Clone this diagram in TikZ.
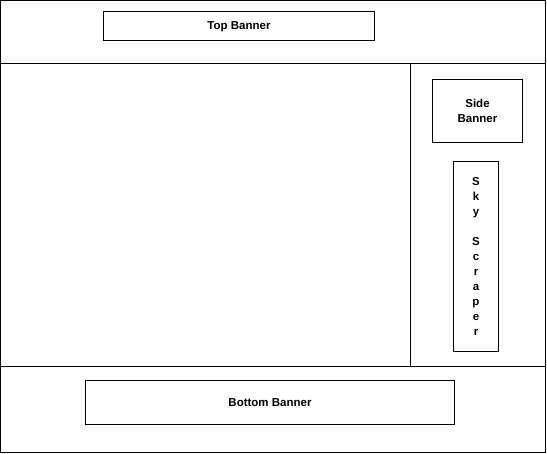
\documentclass[tikz,border=0pt]{standalone}
\usepackage{fontspec}
\setmainfont{Liberation Sans}
\usetikzlibrary{positioning}
\tikzset{
  adBox/.style={draw,line width=1pt,inner sep=0pt,align=center,
      font=\bfseries\fontsize{11.5}{15}\selectfont},
  frameLine/.style={draw,line width=1pt},
}
\newcommand{\PageW}{545.5}
\newcommand{\PageH}{452.5}

\begin{document}
\begin{tikzpicture}[x=1pt,y=-1pt]
  \useasboundingbox (0,0) rectangle (547,454);
  % page frame
  \draw[frameLine] (0.5,0.5) rectangle (\PageW,\PageH);
  \draw[frameLine] (0.5,63.5) -- (\PageW,63.5);
  \draw[frameLine] (0.5,366.5) -- (\PageW,366.5);
  \draw[frameLine] (410.5,63.5) -- (410.5,366.5);

  \node[adBox,minimum width=271pt,minimum height=29pt] at (239,26.5) (top) {Top Banner};
  \node[adBox,minimum width=90pt,minimum height=63pt] at (477.5,111) (side) {Side\\Banner};
  \node[adBox,minimum width=45pt,minimum height=190pt] at (476,256.5) (sky)
      {S\\k\\y\\\strut\\S\\c\\r\\a\\p\\e\\r};
  \node[adBox,minimum width=369pt,minimum height=44pt] at (270,402.5) (bottom) {Bottom Banner};
\end{tikzpicture}
\end{document}
